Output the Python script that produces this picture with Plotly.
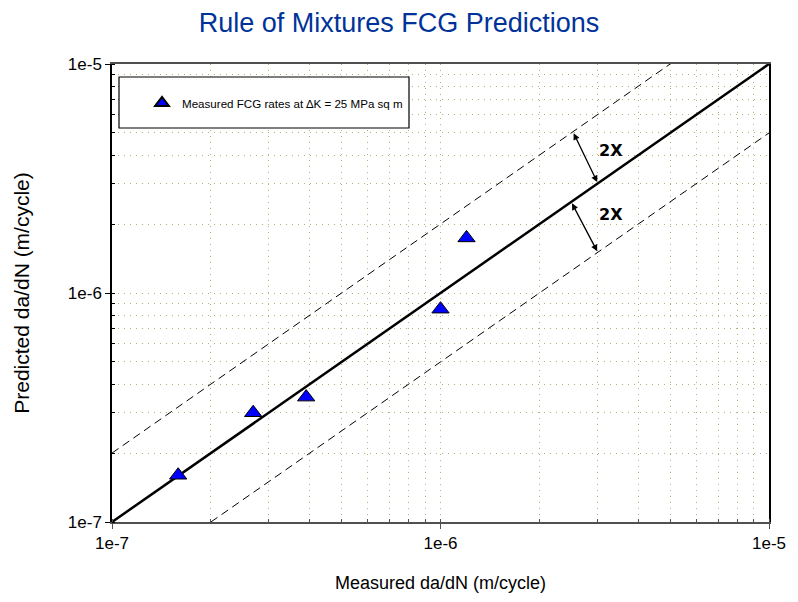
import numpy as np
import plotly.graph_objects as go

# Data
measured = [1.59e-7, 2.69e-7, 3.90e-7, 1.0e-6, 1.20e-6]
predicted = [1.60e-7, 3.0e-7, 3.51e-7, 8.5e-7, 1.74e-6]

line_x = [1e-7, 1e-5]
upper_x = [1e-7, 5e-6]
lower_x = [2e-7, 1e-5]
factor = 2.0

tick_vals = [1e-7, 1e-6, 1e-5]
tick_text = ["1e-7", "1e-6", "1e-5"]

title_text = "Rule of Mixtures FCG Predictions"
x_title = "Measured da/dN (m/cycle)"
y_title = "Predicted da/dN (m/cycle)"
legend_name = "Measured FCG rates at \u2206K = 25 MPa sq m"

FONT = "Liberation Sans, Arial"

fig = go.Figure()

fig.add_trace(go.Scatter(x=line_x, y=line_x, mode="lines",
                         line=dict(color="black", width=2.5), showlegend=False, hoverinfo="skip"))
fig.add_trace(go.Scatter(x=upper_x, y=[v * factor for v in upper_x], mode="lines",
                         line=dict(color="black", width=1, dash="8px,5px"), showlegend=False, hoverinfo="skip"))
fig.add_trace(go.Scatter(x=lower_x, y=[v / factor for v in lower_x], mode="lines",
                         line=dict(color="black", width=1, dash="8px,5px"), showlegend=False, hoverinfo="skip"))
fig.add_trace(go.Scatter(x=measured, y=predicted, mode="markers", name=legend_name,
                         marker=dict(symbol="triangle-up", size=15, color="#0000ff",
                                     line=dict(color="black", width=1))))

grid_col = "#b8b078"
def axis_common(linecol):
    return dict(
        type="log",
        tickvals=tick_vals, ticktext=tick_text,
        showline=True, linecolor=linecol, linewidth=1.5, mirror=True,
        ticks="outside", ticklen=5, tickcolor=linecol,
        showgrid=True, gridcolor=grid_col, griddash="1px,5px", gridwidth=1,
        minor=dict(dtick="D1", showgrid=True, gridcolor=grid_col, griddash="1px,5px",
                   gridwidth=1, ticks="inside", ticklen=3, tickcolor=linecol),
        tickfont=dict(family=FONT, size=17, color="black"),
        zeroline=False,
    )

fig.update_layout(
    width=798, height=602,
    margin=dict(l=112, r=29, t=64, b=80),
    paper_bgcolor="white", plot_bgcolor="white",
    title=dict(text=title_text, x=0.5, xanchor="center", y=0.963, yanchor="middle",
               font=dict(family=FONT, size=27, color="#003399")),
    xaxis=dict(range=[-7, -5], title=dict(text=x_title, standoff=24,
               font=dict(family=FONT, size=18, color="black")), **axis_common("#505050")),
    yaxis=dict(range=[-7, -5], title=dict(text=y_title, standoff=32,
               font=dict(family=FONT, size=21, color="black")), **axis_common("black")),
    legend=dict(x=(142 - 112) / 657, y=(522 - 103) / 458, xanchor="left", yanchor="middle",
                bgcolor="rgba(0,0,0,0)", borderwidth=0,
                font=dict(family=FONT, size=11.6, color="black"),
                itemsizing="constant"),
    showlegend=True,
)

# legend frame
fig.add_shape(type="rect", xref="paper", yref="paper",
              x0=(119 - 112) / 657, x1=(409 - 112) / 657,
              y0=(522 - 128) / 458, y1=(522 - 77) / 458,
              line=dict(color="black", width=1.2), fillcolor="white", layer="above")

# double-headed arrows
arrows = [
    ((2.53e-6, 5.06e-6), (3.0e-6, 3.05e-6)),
    ((2.5e-6, 2.5e-6), (3.0e-6, 1.52e-6)),
]
for (x0, y0), (x1, y1) in arrows:
    fig.add_annotation(x=np.log10(x1), y=np.log10(y1), ax=np.log10(x0), ay=np.log10(y0),
                       xref="x", yref="y", axref="x", ayref="y",
                       showarrow=True, arrowhead=2, startarrowhead=2, arrowside="end+start",
                       arrowsize=1, arrowwidth=1.3, arrowcolor="black", text="")

labels = [(3.3e-6, 4.2e-6), (3.3e-6, 2.2e-6)]
for lx, ly in labels:
    fig.add_annotation(x=np.log10(lx), y=np.log10(ly), xref="x", yref="y", text="<b>2X</b>",
                       showarrow=False, font=dict(family="DejaVu Sans, Liberation Sans", size=16, color="black"))

fig.write_html("out.html")
